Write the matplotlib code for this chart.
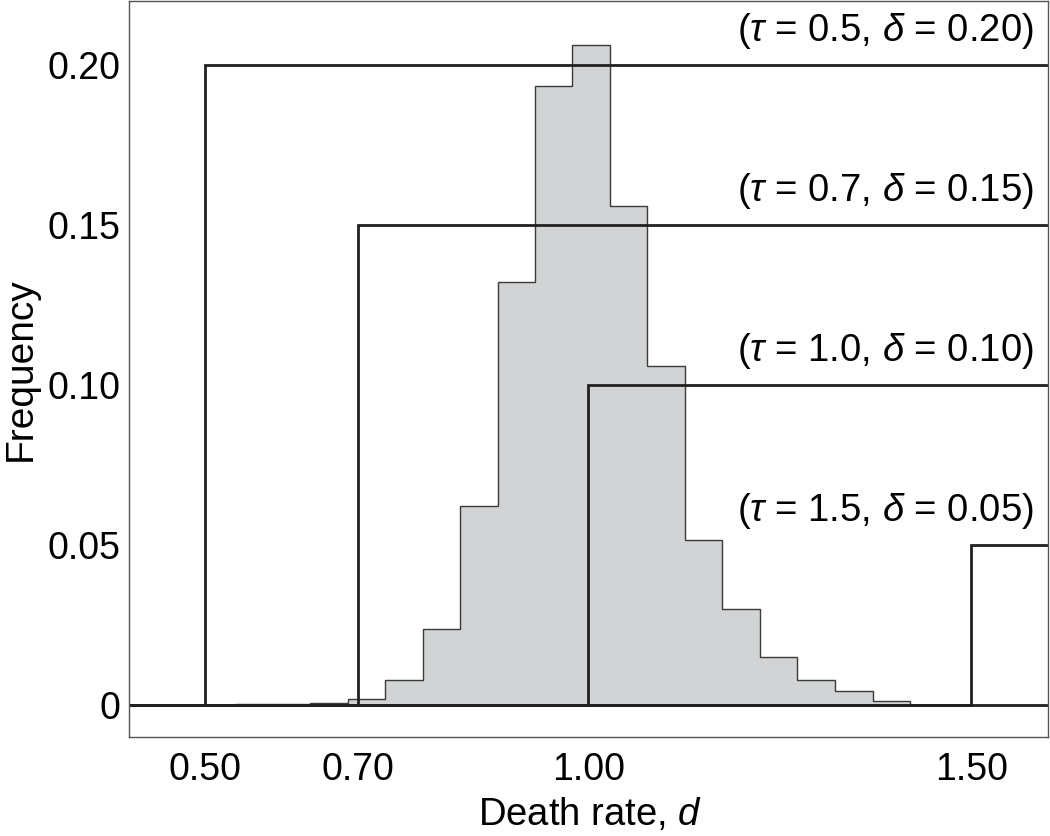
import matplotlib
matplotlib.use("Agg")
import matplotlib.pyplot as plt

plt.rcParams['font.family'] = ['Liberation Sans', 'DejaVu Sans']
plt.rcParams['mathtext.fontset'] = 'custom'
plt.rcParams['mathtext.rm'] = 'Liberation Sans'
plt.rcParams['mathtext.it'] = 'Liberation Sans:italic'

# histogram of death rates (bin edges and frequencies)
bin_edges = [0.539, 0.588, 0.637, 0.686, 0.735, 0.784, 0.833, 0.882, 0.930,
             0.979, 1.028, 1.077, 1.126, 1.175, 1.224, 1.273, 1.322, 1.371, 1.420]
freqs = [0.0002, 0.0003, 0.0005, 0.0018, 0.0078, 0.0237, 0.0621, 0.1321, 0.1934,
         0.2062, 0.1558, 0.1059, 0.0515, 0.0300, 0.0150, 0.0077, 0.0041, 0.0012]

# threshold curves
taus = [0.5, 0.7, 1.0, 1.5]
deltas = [0.20, 0.15, 0.10, 0.05]
tau_labels = ['0.5', '0.7', '1.0', '1.5']
delta_labels = ['0.20', '0.15', '0.10', '0.05']

xticks = [0.50, 0.70, 1.00, 1.50]
xtick_labels = ['0.50', '0.70', '1.00', '1.50']
yticks = [0, 0.05, 0.10, 0.15, 0.20]
ytick_labels = ['0', '0.05', '0.10', '0.15', '0.20']

xmin, xmax = 0.4, 1.6
ink = '#231f20'

fig = plt.figure(figsize=(10.5, 8.36), dpi=100)
ax = fig.add_axes([0.1224, 0.119, 0.8757, 0.8798])

ax.stairs(freqs, bin_edges, fill=True, facecolor='#d1d3d4', edgecolor='none')
ax.stairs(freqs, bin_edges, color='#3a3a3a', linewidth=1.0)

ax.axhline(0, color=ink, linewidth=2.0)
for tau, delta, tl, dl in zip(taus, deltas, tau_labels, delta_labels):
    ax.plot([xmin, tau, tau, xmax], [0, 0, delta, delta], color=ink,
            linewidth=2.0, solid_joinstyle='miter')
    ax.text(1.581, delta + 0.0105, r'($\tau$ = %s, $\delta$ = %s)' % (tl, dl),
            ha='right', va='center', fontsize=27.5, color='black')

ax.set_xlim(xmin, xmax)
ax.set_ylim(-0.01, 0.22)
ax.set_xticks(xticks)
ax.set_xticklabels(xtick_labels)
ax.set_yticks(yticks)
ax.set_yticklabels(ytick_labels)
ax.tick_params(length=0, labelsize=27)
ax.tick_params(axis='x', pad=11)
ax.tick_params(axis='y', pad=6)

for s in ax.spines.values():
    s.set_color('#555555')
    s.set_linewidth(1.0)

ax.set_xlabel(r'Death rate, $d$', fontsize=27.5)
ax.set_ylabel('Frequency', fontsize=28)
ax.xaxis.set_label_coords(0.502, -0.081)
ax.yaxis.set_label_coords(-0.098, 0.5)

fig.savefig('out.png', dpi=100)
